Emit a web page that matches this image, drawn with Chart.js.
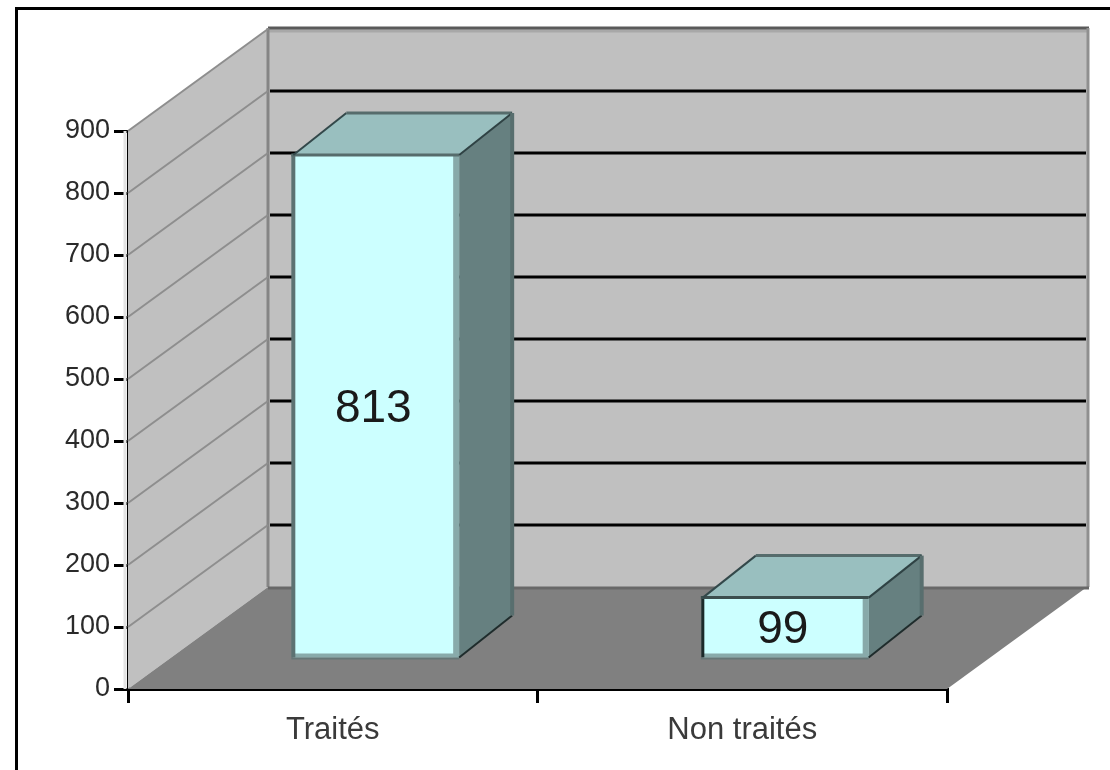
<!DOCTYPE html>
<html>
<head>
<meta charset="utf-8">
<title>Traités / Non traités</title>
<script src="https://cdn.jsdelivr.net/npm/chart.js@4/dist/chart.umd.min.js"></script>
<style>
    html, body { margin: 0; padding: 0; background: #fff; overflow: hidden; }
    canvas { display: block; }
</style>
</head>
<body>
<canvas id="barChart" width="1110" height="770"></canvas>
<script>
const categories = ['Traités', 'Non traités'];
const patients = [813, 99];
const yTicks = [0, 100, 200, 300, 400, 500, 600, 700, 800, 900];

// Depth of the box the plot sits in, and where the bars stand inside it
const DEPTH_X = 140;
const DEPTH_Y = -102;
const BAR_SHIFT_X = 43.5;
const BAR_SHIFT_Y = -30;
const BAR_DEPTH_X = 53;
const BAR_DEPTH_Y = -42;

function poly(ctx, points, fill) {
    ctx.beginPath();
    points.forEach(([x, y], i) => (i ? ctx.lineTo(x, y) : ctx.moveTo(x, y)));
    ctx.closePath();
    ctx.fillStyle = fill;
    ctx.fill();
}

function line(ctx, x1, y1, x2, y2, color, width) {
    ctx.beginPath();
    ctx.moveTo(x1, y1);
    ctx.lineTo(x2, y2);
    ctx.strokeStyle = color;
    ctx.lineWidth = width;
    ctx.stroke();
}

// Frame on the top and left of the page, walls and floor behind the bars
const wallsPlugin = {
    id: 'walls',
    beforeDatasetsDraw(chart) {
        const { ctx, chartArea: { left, right, top, bottom }, scales: { y } } = chart;
        const dx = DEPTH_X;
        const dy = DEPTH_Y;

        ctx.save();
        line(ctx, 15, 8.5, 1110, 8.5, '#000', 3);
        line(ctx, 16.5, 7, 16.5, 770, '#000', 3);

        poly(ctx, [[left + dx, top + dy], [right + dx, top + dy], [right + dx, bottom + dy], [left + dx, bottom + dy]], '#c0c0c0');
        poly(ctx, [[left, top], [left + dx, top + dy], [left + dx, bottom + dy], [left, bottom]], '#c0c0c0');
        poly(ctx, [[left, bottom], [right, bottom], [right + dx, bottom + dy], [left + dx, bottom + dy]], '#808080');

        // Back wall outline
        line(ctx, left + dx, top + dy + 2, right + dx + 1, top + dy + 2, '#a8a8a8', 3);
        line(ctx, left + dx, top + dy - 1, right + dx + 2, top + dy - 1, '#5a5a5a', 3);
        line(ctx, left + dx, top + dy - 1, left + dx, bottom + dy, '#858585', 3);
        line(ctx, right + dx + 1, top + dy - 1, right + dx + 1, bottom + dy, '#8f8f8f', 3);
        line(ctx, left + dx, bottom + dy + 1, right + dx + 2, bottom + dy + 1, '#686868', 3);

        // One gridline per tick, running back along the side wall then across the back
        yTicks.forEach((value) => {
            const py = y.getPixelForValue(value);
            if (value > 0) {
                line(ctx, left, py, left + dx, py + dy, '#8e8e8e', 2);
            }
            if (value > 0 && value < 900) {
                line(ctx, left + dx + 2, py + dy, right + dx - 1, py + dy, '#000', 3);
            }
        });

        // Soft strip along the value axis
        line(ctx, left - 3, top, left - 3, bottom, '#e4e4e4', 3);
        ctx.restore();
    }
};

// Moves the bars to their depth and adds the top, the side and the edges of each box
const boxPlugin = {
    id: 'boxes',
    beforeDatasetDraw(chart) {
        chart.ctx.save();
        chart.ctx.translate(BAR_SHIFT_X, BAR_SHIFT_Y);
    },
    afterDatasetDraw(chart, args) {
        const { ctx } = chart;
        const meta = chart.getDatasetMeta(args.index);

        meta.data.forEach((bar, i) => {
            const l = bar.x - bar.width / 2;
            const r = bar.x + bar.width / 2;
            const t = bar.y;
            const b = bar.base;
            const dx = BAR_DEPTH_X;
            const dy = BAR_DEPTH_Y;
            const edge = i === 0 ? '#5c7272' : '#1c2a2a';

            poly(ctx, [[l, t], [r, t], [r + dx, t + dy], [l + dx, t + dy]], '#99bfbf');
            poly(ctx, [[r, t], [r + dx, t + dy], [r + dx, b + dy], [r, b]], '#668080');

            // Lighter bevel on the inside of the front face
            line(ctx, r - 3, t, r - 3, b, '#88aaaa', 6);
            line(ctx, l, b - 2, r, b - 2, '#88aaaa', 4);

            line(ctx, l, t, l, b, edge, i === 0 ? 4 : 3);
            line(ctx, l - 2, t, r, t, i === 0 ? '#566c6c' : '#3c4e4e', 3);
            line(ctx, l - 2, b + 1, r, b + 1, '#667676', 2);
            line(ctx, l, t, l + dx, t + dy, '#33484a', 2);
            line(ctx, l + dx, t + dy, r + dx, t + dy, '#566c6c', 3);
            line(ctx, r, t, r + dx, t + dy, '#2f4244', 2);
            line(ctx, r, b, r + dx, b + dy, '#1f2c2c', 2);
            line(ctx, r + dx, t + dy, r + dx, b + dy, '#586e6e', 4);

            // Value printed in the middle of the front face
            ctx.fillStyle = '#1a1a1a';
            ctx.font = '46px "Liberation Sans", Arial, sans-serif';
            ctx.textAlign = 'center';
            ctx.textBaseline = 'middle';
            ctx.fillText(String(patients[i]), bar.x - 3, (t + b) / 2 + 3);
        });
        ctx.restore();
    }
};

const ctx = document.getElementById('barChart').getContext('2d');
new Chart(ctx, {
    type: 'bar',
    data: {
        labels: categories,
        datasets: [{
            data: patients,
            backgroundColor: '#ccffff',
            borderWidth: 0,
            clip: false,
            barPercentage: 0.405,
            categoryPercentage: 1,
        }],
    },
    options: {
        responsive: false,
        animation: false,
        layout: {
            padding: { top: 131, right: 163, left: 0, bottom: 0 }
        },
        plugins: {
            legend: { display: false },
            tooltip: { enabled: false },
            title: { display: false }
        },
        scales: {
            x: {
                afterFit(scale) { scale.height = 81; },
                border: { color: '#000', width: 3 },
                grid: {
                    drawOnChartArea: false,
                    color: '#000',
                    lineWidth: 3,
                    tickLength: 14,
                    offset: true
                },
                ticks: {
                    color: '#3a3a3a',
                    padding: 9,
                    maxRotation: 0,
                    font: { family: '"Liberation Sans", Arial, sans-serif', size: 31 }
                }
            },
            y: {
                min: 0,
                max: 900,
                afterFit(scale) { scale.width = 128; },
                afterBuildTicks(scale) { scale.ticks = yTicks.map((value) => ({ value })); },
                border: { color: '#000', width: 3 },
                grid: {
                    drawOnChartArea: false,
                    color: '#000',
                    lineWidth: 3,
                    tickLength: 14
                },
                ticks: {
                    color: '#2a2a2a',
                    padding: 4,
                    font: { family: '"Liberation Sans", Arial, sans-serif', size: 27 }
                }
            }
        }
    },
    plugins: [wallsPlugin, boxPlugin]
});
</script>
</body>
</html>
